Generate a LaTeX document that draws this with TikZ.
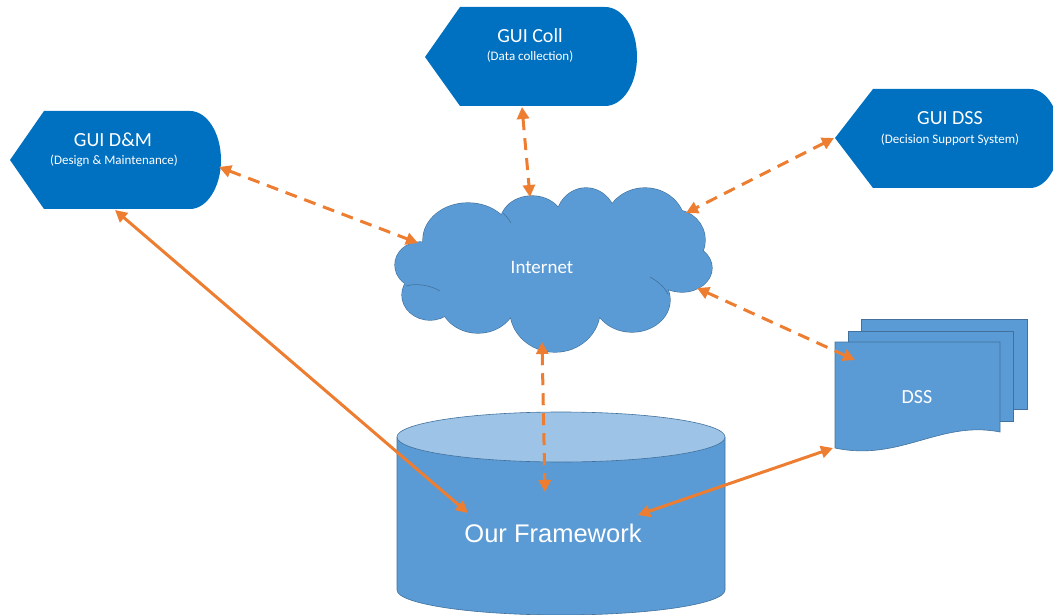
\documentclass[tikz,border=0pt]{standalone}
\usepackage{fontspec}
\setmainfont{Carlito}
\newfontfamily\arialfont{Liberation Sans}
\usetikzlibrary{arrows.meta}
\definecolor{guiblue}{HTML}{0070C0}
\definecolor{midblue}{HTML}{5B9BD5}
\definecolor{lightblue}{HTML}{9DC3E6}
\definecolor{edgeblue}{HTML}{41719C}
\definecolor{arrorange}{HTML}{ED7D31}
\tikzset{
  guishape/.style={fill=guiblue, draw=none},
  bodyshape/.style={fill=midblue, draw=edgeblue, line width=0.6pt},
  titletext/.style={text=white, font=\fontsize{20}{22}\selectfont, inner sep=0pt},
  subtext/.style={text=white, font=\fontsize{13}{15}\selectfont, inner sep=0pt},
  link/.style={draw=arrorange, line width=3pt, {Triangle[length=12pt,width=12pt]}-{Triangle[length=12pt,width=12pt]}},
  dashlink/.style={link, dash pattern=on 12pt off 8pt},
  puffline/.style={draw=edgeblue, line width=0.6pt},
}
\newcommand{\cloudpuffs}{%
  (420,265) ellipse [x radius=25, y radius=23]
  (468,240) ellipse [x radius=45, y radius=37]
  (532,223) ellipse [x radius=32, y radius=27]
  (586,220) ellipse [x radius=30, y radius=32]
  (645,225) ellipse [x radius=40, y radius=37]
  (675,240) ellipse [x radius=30, y radius=30]
  (682,268) ellipse [x radius=30, y radius=24]
  (632,300) ellipse [x radius=38, y radius=32]
  (555,310) ellipse [x radius=45, y radius=42]
  (478,300) ellipse [x radius=38, y radius=33]
  (430,295) ellipse [x radius=28, y radius=25]
  (553,270) ellipse [x radius=120, y radius=50]}
\begin{document}
\begin{tikzpicture}[x=1pt,y=-1pt]
\useasboundingbox (0,0) rectangle (1053,615);

% GUI D&M
\path[guishape] (10,160) -- (44,111) -- (190,111) .. controls (207,111) and (221,133) .. (221,160)
  .. controls (221,187) and (207,209) .. (190,209) -- (44,209) -- cycle;
\node[titletext] (dmtitle) at (113,140) {GUI D\&M};
\node[subtext] (dmsub) at (114,161) {(Design \& Maintenance)};

% GUI Coll
\path[guishape] (425,57) -- (460,7) -- (605,7) .. controls (623,7) and (637,29) .. (637,57)
  .. controls (637,84) and (623,106) .. (605,106) -- (460,106) -- cycle;
\node[titletext] (colltitle) at (530,36) {GUI Coll};
\node[subtext] (collsub) at (530,57) {(Data collection)};

% GUI DSS
\path[guishape] (835,138) -- (873,89) -- (1030,89) .. controls (1047,89) and (1060,111) .. (1060,138)
  .. controls (1060,165) and (1047,188) .. (1030,188) -- (873,188) -- cycle;
\node[titletext] (dsstitle) at (950,118) {GUI DSS};
\node[subtext] (dsssub) at (950,140) {(Decision Support System)};

% Internet cloud: outline pass, then fill pass
\path[draw=edgeblue, line width=1.2pt] \cloudpuffs;
\path[fill=midblue] \cloudpuffs;
\path[puffline] (406,286) .. controls (416,283) and (430,285) .. (440,291);
\path[puffline] (650,277) .. controls (659,282) and (665,288) .. (668,294);
\path[puffline] (503,213) .. controls (506,216) and (509,219) .. (511,223);
\node[titletext, font=\fontsize{19}{21}\selectfont] (internet) at (542,267) {Internet};

% DSS documents
\path[bodyshape] (861,319) rectangle (1027,409);
\path[bodyshape] (848,331) rectangle (1013,421);
\path[bodyshape] (835,342) -- (1000,342) -- (1000,432)
  .. controls (940,420) and (900,462) .. (835,448) -- cycle;
\node[titletext] (dss) at (917,397) {DSS};

% Framework cylinder
\path[bodyshape] (397,437) -- (397,590) .. controls (397,603.8) and (470.5,615) .. (561,615)
  .. controls (651.5,615) and (725,603.8) .. (725,590) -- (725,437);
\path[fill=lightblue, draw=edgeblue, line width=0.6pt] (561,437) ellipse [x radius=164, y radius=25];
\node[text=white, font=\arialfont\fontsize{25.5}{28}\selectfont, inner sep=0pt] (fw) at (553,533) {Our Framework};

% connector end points
\coordinate (dmR) at (219,167);
\coordinate (dmB) at (115,210);
\coordinate (collB) at (522,107);
\coordinate (dssgL) at (834,138);
\coordinate (clL) at (418,243);
\coordinate (clT) at (530,197);
\coordinate (clR) at (686,213);
\coordinate (clRB) at (697,288);
\coordinate (clB) at (542,342);
\coordinate (dssL) at (855,360);
\coordinate (dssB) at (833,448);
\coordinate (fwT) at (545,492);
\coordinate (fwL) at (468,513);
\coordinate (fwR) at (638,515);

% connectors
\draw[dashlink] (dmR) -- (clL);
\draw[dashlink] (collB) -- (clT);
\draw[dashlink] (dssgL) -- (clR);
\draw[dashlink] (clRB) -- (dssL);
\draw[dashlink] (clB) -- (fwT);
\draw[link] (dmB) -- (fwL);
\draw[link] (dssB) -- (fwR);
\end{tikzpicture}
\end{document}
